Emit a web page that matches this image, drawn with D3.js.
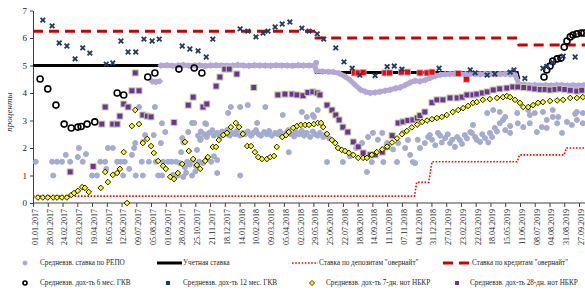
<!DOCTYPE html>
<html><head><meta charset="utf-8">
<script src="https://cdn.jsdelivr.net/npm/d3@7"></script>
<style>body{margin:0;background:#fff}svg{display:block}</style>
</head><body><svg id="c" width="585" height="297"></svg>
<script>
// all series: [days since 01.01.2017, value %]
const tickLabels = ["01.01.2017","28.01.2017","24.02.2017","23.03.2017","19.04.2017","16.05.2017","12.06.2017","09.07.2017","05.08.2017","01.09.2017","28.09.2017","25.10.2017","21.11.2017","18.12.2017","14.01.2018","10.02.2018","09.03.2018","05.04.2018","02.05.2018","29.05.2018","25.06.2018","22.07.2018","18.08.2018","14.09.2018","11.10.2018","07.11.2018","04.12.2018","31.12.2018","27.01.2019","23.02.2019","22.03.2019","18.04.2019","15.05.2019","11.06.2019","08.07.2019","04.08.2019","31.08.2019","27.09.2019"];
const yTicks = [0,1,2,3,4,5,6,7];

const policyRate = [[0,5],[515,5],[518,4.75],[886,4.75],[889,4.5]];
const overnightDeposit = [[0,0.25],[698,0.25],[702,0.75],[724,0.75],[730,1.5],[886,1.5],[890,1.75],[972,1.75],[976,2.0],[1015,2.0]];
const overnightCredit = [[0,6.25],[516,6.25],[518,6.0],[886,6.0],[889,5.75],[1015,5.75]];

const lavenderA = [[218,4.42],[225,4.40],[232,4.43]];
const lavenderB = [[234,5.0],[245,5.01],[255,4.99],[265,5.0],[275,5.02],[285,4.99],[295,5.0],[305,5.01],[315,4.98],[325,5.0],[335,5.01],[345,5.0],[355,4.99],[365,5.0],[375,5.02],[385,5.0],[395,4.99],[405,5.01],[415,5.0],[425,5.0],[435,4.99],[445,5.01],[455,5.0],[465,5.0],[475,4.99],[485,5.01],[495,5.0],[505,5.0],[515,5.0],
 [519,4.8],[530,4.78],[540,4.77],[550,4.76],[560,4.72],[571,4.6],[580,4.47],[589,4.3],[599,4.12],[608,4.05],[617,4.0],[626,4.02],[635,4.05],[644,4.08],[654,4.12],[663,4.17],[672,4.2],[681,4.28],[690,4.38],[699,4.45],[708,4.42],[718,4.47],[727,4.55],[736,4.62],[745,4.66],[754,4.68],[763,4.69],[772,4.7],[782,4.69],[791,4.68],[800,4.7],[809,4.69],[818,4.68],[827,4.7],[837,4.69],[846,4.68],[855,4.69],[864,4.7],[873,4.68],[882,4.67],
 [889,4.32],[898,4.3],[908,4.28],[918,4.29],[928,4.27],[938,4.28],[948,4.27],[958,4.29],[968,4.28],[978,4.27],[988,4.28],[998,4.27],[1008,4.28],[1015,4.28]];

const redSquares = [[588,4.73],[595,4.73],[604,4.75],[644,4.73],[652,4.73],[674,4.76],[685,4.76],[708,4.73],[721,4.73],[730,4.76],[778,4.71],[793,4.5]];

const repo = [[5,1.5],[35,1.5],[37,1.0],[44,1.5],[53,1.5],[60,1.75],[68,1.5],[82,1.67],[84,2.0],[91,1.5],[97,1.78],[108,1.0],[117,1.0],[123,1.5],[132,1.5],[134,1.24],[137,2.0],[146,2.0],[154,1.5],[161,1.5],[165,1.0],[168,1.5],[176,1.24],[181,1.75],[185,2.0],[187,2.18],[188,1.0],[194,3.49],[199,1.5],[201,1.0],[201,2.22],[205,2.47],[212,1.5],[221,2.47],[223,3.49],[225,1.5],[229,1.0],[234,2.18],[236,1.0],[236,2.9],[238,1.5],[242,2.58],[247,1.5],[254,1.5],[256,1.02],[262,1.5],[265,1.0],
 [269,1.45],[271,1.85],[273,2.36],[275,2.2],[275,0.95],[278,1.3],[280,1.1],[282,1.5],[284,2.58],[287,1.4],[291,1.0],[291,2.91],[293,1.55],[295,2.91],[297,1.15],[298,1.35],[300,1.93],[304,1.5],[306,2.29],[307,2.33],[311,1.45],[315,2.9],[317,2.87],[318,1.6],[326,1.5],[331,1.7],[337,1.56],[337,1.09],[357,3.27],[362,3.49],[379,3.49],[379,1.0],[393,3.56],[410,2.91],[425,3.49],[457,3.2],[468,1.85],[492,3.31],[501,3.13],[512,3.2],[514,3.13],[518,5.1],[521,3.38],[538,1.49],
 [302,2.45],[307,2.6],[313,2.5],[318,2.4],[322,2.55],[328,2.65],[331,2.45],[337,2.55],[342,2.4],[346,2.6],[351,2.5],[355,2.65],[360,2.45],[364,2.55],[370,2.5],[373,2.62],[379,2.45],[384,2.55],[388,2.5],[393,2.6],[399,2.45],[403,2.55],[408,2.65],[413,2.5],[417,2.45],[423,2.58],[428,2.5],[432,2.62],[437,2.45],[443,2.55],[448,2.5],[452,2.6],[457,2.45],[463,2.55],[467,2.65],[472,2.5],[478,2.42],[481,2.58],[487,2.5],[492,2.62],[496,2.45],[501,2.55],[507,2.4],[512,2.6],[516,2.5],[521,2.45],[525,2.55],[531,2.4],[536,2.5],[542,2.35],
 [567,1.49],[580,1.7],[591,2.0],[602,2.18],[611,1.13],[613,2.4],[620,1.49],[622,2.55],[631,2.3],[639,2.55],[641,1.49],[648,2.18],[659,1.95],[666,1.49],[668,2.18],[677,2.55],[681,2.0],[686,2.29],[690,1.75],[695,1.49],[699,1.45],[704,2.3],[708,2.0],[717,2.18],[723,2.4],[726,2.47],[730,2.3],[736,2.1],[741,2.55],[745,2.45],[748,2.2],[754,2.36],[759,2.5],[763,2.18],[767,2.3],[772,2.04],[776,2.4],[781,2.29],[785,2.15],[790,2.47],[794,2.35],[800,2.58],[803,2.55],[805,2.84],[809,2.4],[812,2.3],[818,2.22],[822,2.5],[827,2.36],[831,3.27],[833,2.2],[836,2.55],[840,2.4],[842,3.38],[845,2.73],[849,2.6],[854,2.9],[854,3.31],[860,3.02],[864,3.13],[864,2.65],[873,2.8],[873,2.55],[886,3.27],[887,2.9],[897,2.76],[906,3.38],[909,3.2],[909,2.9],[918,3.27],[922,2.58],[931,2.76],[933,3.31],[940,3.02],[940,2.73],[951,3.13],[951,3.38],[959,2.9],[961,3.13],[968,2.55],[977,2.95],[986,2.84],[992,3.24],[995,3.02],[995,3.31],[1006,3.27],[1006,2.9]];

const gkv6 = [[13,4.51],[27,4.15],[42,3.56],[57,2.87],[70,2.73],[82,2.76],[88,2.78],[99,2.87],[113,2.95],[154,4.0],[166,3.93],[210,4.58],[223,4.73],[267,4.87],[295,4.91],[309,4.73],[935,4.58],[940,4.84],[946,4.98],[951,5.16],[959,5.24],[966,5.27],[972,5.67],[977,5.89],[983,6.04],[988,6.11],[995,6.15],[1003,6.18],[1008,6.18]];

const gkv12 = [[18,6.65],[35,6.44],[48,5.82],[62,5.71],[77,5.24],[91,5.64],[104,5.45],[134,5.05],[146,5.09],[161,5.89],[174,5.49],[188,5.49],[203,5.96],[218,5.89],[231,5.96],[273,5.71],[287,5.6],[302,5.53],[317,5.31],[329,5.96],[379,6.33],[393,6.25],[408,6.04],[421,6.18],[430,6.25],[443,6.4],[456,6.51],[470,6.58],[492,6.36],[505,6.25],[520,6.15],[532,5.96],[554,5.64],[569,5.13],[584,4.9],[598,4.65],[626,4.63],[648,4.96],[661,4.98],[675,4.87],[743,4.9],[800,4.84],[809,4.73],[831,4.65],[845,4.69],[873,4.76],[880,4.84],[900,4.53],[933,4.9],[940,4.97],[951,5.11],[970,5.34],[992,5.31]];

const notes7 = [[9,0.2],[18,0.2],[27,0.2],[37,0.2],[44,0.2],[53,0.2],[62,0.2],[70,0.29],[75,0.36],[82,0.44],[90,0.58],[95,0.55],[102,0.4],[124,0.55],[132,1.13],[137,0.76],[146,1.02],[154,1.09],[159,1.24],[166,1.85],[172,0.0],[181,2.8],[187,3.38],[194,2.87],[201,2.18],[209,2.33],[216,2.07],[221,1.82],[229,1.53],[238,1.35],[243,1.24],[251,0.95],[258,0.87],[265,1.09],[273,1.42],[278,2.22],[285,1.89],[293,1.6],[300,1.38],[306,1.24],[315,1.53],[320,1.67],[329,2.04],[335,2.04],[340,2.29],[348,2.47],[355,2.55],[362,2.76],[371,2.91],[377,2.76],[384,2.51],[392,2.07],[399,2.07],[406,1.85],[412,1.67],[419,1.6],[428,1.6],[434,1.67],[441,1.71],[446,2.04],[456,2.4],[463,2.47],[468,2.58],[476,2.73],[483,2.8],[490,2.84],[498,2.84],[505,2.84],[514,2.87],[521,2.91],[527,2.91],[531,2.76],[538,2.51],[547,2.29],[553,2.18],[558,2.0],[565,1.93],[571,1.89],[578,1.82],[586,1.75],[595,1.64],[604,1.64],[611,1.64],[620,1.75],[629,1.85],[639,1.95],[648,2.05],[657,2.2],[666,2.35],[675,2.5],[684,2.62],[693,2.75],[703,2.85],[712,2.95],[721,3.0],[730,3.05],[739,3.09],[748,3.13],[757,3.2],[768,3.31],[778,3.38],[787,3.45],[796,3.53],[805,3.64],[812,3.67],[823,3.75],[836,3.78],[849,3.82],[860,3.85],[867,3.89],[873,3.85],[882,3.75],[891,3.64],[897,3.49],[906,3.49],[915,3.56],[924,3.64],[933,3.67],[946,3.71],[959,3.73],[970,3.75],[983,3.82],[995,3.82],[1006,3.85]];

const notes28 = [[68,1.13],[110,1.33],[126,2.87],[132,3.49],[146,2.87],[154,2.87],[159,3.16],[166,3.6],[174,3.49],[181,4.08],[187,4.73],[194,4.08],[201,3.2],[209,3.16],[216,3.13],[258,2.93],[284,3.56],[293,3.85],[311,3.49],[318,3.6],[335,4.25],[342,4.58],[351,4.87],[359,4.87],[373,4.69],[404,4.2],[448,3.93],[461,3.96],[474,3.96],[483,3.93],[494,3.9],[503,4.02],[512,4.04],[520,4.0],[525,3.93],[538,3.56],[547,3.38],[554,3.2],[560,3.02],[567,2.76],[576,2.58],[586,2.22],[595,2.04],[604,1.82],[617,1.75],[626,1.75],[639,1.85],[648,2.04],[657,2.45],[668,2.91],[677,2.95],[686,3.0],[695,3.02],[703,3.09],[708,3.18],[717,3.31],[730,3.65],[739,3.75],[750,3.75],[763,3.82],[776,3.82],[785,3.85],[794,3.93],[805,3.93],[812,3.96],[822,4.0],[831,4.04],[842,4.11],[854,4.15],[867,4.18],[878,4.22],[887,4.22],[898,4.2],[909,4.18],[918,4.15],[928,4.13],[937,4.13],[946,4.11],[955,4.13],[964,4.15],[973,4.13],[983,4.1],[995,4.07],[1004,4.1]];

const legendNames = ["Средневзв. ставка по РЕПО","Учетная ставка","Ставка по депозитам \"овернайт\"","Ставка по кредитам \"овернайт\"","Средневзв. дох-ть 6 мес. ГКВ","Средневзв. дох-ть 12 мес. ГКВ","Средневзв. дох-ть 7-дн. нот НБКР","Средневзв. дох-ть 28-дн. нот НБКР"];

// ---------- drawing ----------
const svg = d3.select('#c');
const BASE = Date.UTC(2017,0,1);
const toDate = d => new Date(BASE + d*864e5);
const parseLbl = s => { const [dd,mm,yy] = s.split('.').map(Number); return new Date(Date.UTC(yy,mm-1,dd)); };
const x = d3.scaleUtc().domain([toDate(0), parseLbl("27.09.2019")]).range([33,579]);
const y = d3.scaleLinear().domain([0,7]).range([203,10.5]);
const X = d => x(toDate(d[0])), Y = d => y(d[1]);
const line = d3.line().x(X).y(Y);
const FONT = "'Liberation Serif','Times New Roman',serif";

// axes
const xAxis = svg.append('g').attr('transform','translate(0,203)')
  .call(d3.axisBottom(x).tickValues(tickLabels.map(parseLbl)).tickFormat((d,i)=>tickLabels[i]).tickSize(4).tickSizeOuter(0));
xAxis.select('.domain').remove();
xAxis.append('line').attr('x1',33).attr('x2',585).attr('stroke','#404040');
xAxis.selectAll('.tick line').attr('stroke','#404040');
xAxis.selectAll('text').attr('transform','rotate(-90)').attr('text-anchor','end')
  .attr('x',-6).attr('y',0).attr('dy','0.55em')
  .style('font-family',FONT).style('font-size','8px').attr('fill','#262626');

const yAxis = svg.append('g').attr('transform','translate(33,0)')
  .call(d3.axisLeft(y).tickValues(yTicks).tickFormat(d3.format('d')).tickSize(3).tickSizeOuter(0));
yAxis.select('.domain').attr('stroke','#404040');
yAxis.selectAll('.tick line').attr('stroke','#404040');
yAxis.selectAll('text').style('font-family',FONT).style('font-size','9px').attr('fill','#262626').attr('x',-6);

svg.append('text').attr('transform','translate(12,112) rotate(-90)').attr('text-anchor','middle')
  .style('font-family',FONT).style('font-size','9px').style('font-style','italic').attr('fill','#262626').text('проценты');

const plot = svg.append('g');

// repo circles
plot.append('g').selectAll('circle').data(repo).join('circle')
  .attr('cx',X).attr('cy',Y).attr('r',2.5).attr('fill','#95b3d7').attr('stroke','#b3a2c7').attr('stroke-width',1);

// policy rate
plot.append('path').datum(policyRate).attr('d',line).attr('fill','none').attr('stroke','#000').attr('stroke-width',3);

// lavender band
[lavenderA, lavenderB].forEach(seg => {
  plot.append('path').datum(seg).attr('d',line).attr('fill','none').attr('stroke','#b4a7d6').attr('stroke-width',5).attr('stroke-linejoin','round');
  plot.append('g').selectAll('path').data(seg).join('path')
    .attr('transform',d=>`translate(${X(d)},${Y(d)})`).attr('d','M0,-3.5L3.5,0L0,3.5L-3.5,0Z').attr('fill','#b4a7d6');
});

// overnight lines
plot.append('path').datum(overnightDeposit).attr('d',line).attr('fill','none').attr('stroke','#ff0000').attr('stroke-width',1.6).attr('stroke-dasharray','1.6,1.6');
plot.append('path').datum(overnightCredit).attr('d',line).attr('fill','none').attr('stroke','#d00000').attr('stroke-width',3).attr('stroke-dasharray','10,6');

// red squares
plot.append('g').selectAll('rect').data(redSquares).join('rect')
  .attr('x',d=>X(d)-3).attr('y',d=>Y(d)-3).attr('width',6).attr('height',6).attr('fill','#ff0000').attr('stroke','#9dc3e6').attr('stroke-width',0.8);

// 28-day notes
plot.append('g').selectAll('rect').data(notes28).join('rect')
  .attr('x',d=>X(d)-3).attr('y',d=>Y(d)-3).attr('width',6).attr('height',6).attr('fill','#7030a0').attr('stroke','#c4d79b').attr('stroke-width',1);

// 7-day notes
plot.append('g').selectAll('path').data(notes7).join('path')
  .attr('transform',d=>`translate(${X(d)},${Y(d)})`).attr('d','M0,-2.8L2.8,0L0,2.8L-2.8,0Z')
  .attr('fill','#ffff00').attr('stroke','#000').attr('stroke-width',0.9);

// 6m GKV
plot.append('g').selectAll('circle').data(gkv6).join('circle')
  .attr('cx',X).attr('cy',Y).attr('r',3).attr('fill','none').attr('stroke','#000').attr('stroke-width',1.6);

// 12m GKV
plot.append('g').selectAll('path').data(gkv12).join('path')
  .attr('transform',d=>`translate(${X(d)},${Y(d)})`).attr('d','M-2.3,-2.3L2.3,2.3M-2.3,2.3L2.3,-2.3')
  .attr('stroke','#1f3864').attr('stroke-width',1.8).attr('fill','none');

// legend
const lg = svg.append('g').style('font-family',FONT).style('font-size','7.2px').attr('fill','#262626');
legendNames.forEach((name,i)=>{
  const row = Math.floor(i/4), yy = row ? 283 : 263;
  const [mx, tx] = [[25,40],[157,183],[292,319],[443,472],[25,40],[168,183],[312,326],[457,470]][i];
  const g = lg.append('g');
  if (i===0) g.append('circle').attr('cx',mx).attr('cy',yy).attr('r',2).attr('fill','#95b3d7').attr('stroke','#b3a2c7');
  if (i===1) g.append('line').attr('x1',mx).attr('x2',182).attr('y1',yy).attr('y2',yy).attr('stroke','#000').attr('stroke-width',3);
  if (i===2) g.append('line').attr('x1',mx).attr('x2',318).attr('y1',yy).attr('y2',yy).attr('stroke','#ff0000').attr('stroke-width',1.6).attr('stroke-dasharray','1.6,1.6');
  if (i===3) g.append('line').attr('x1',mx).attr('x2',471).attr('y1',yy).attr('y2',yy).attr('stroke','#d00000').attr('stroke-width',3).attr('stroke-dasharray','10,6');
  if (i===4) g.append('circle').attr('cx',mx).attr('cy',yy).attr('r',2).attr('fill','none').attr('stroke','#000').attr('stroke-width',1.6);
  if (i===5) g.append('rect').attr('x',mx-2).attr('y',yy-2).attr('width',4).attr('height',4).attr('fill','#1f3864');
  if (i===6) g.append('path').attr('transform',`translate(${mx},${yy})`).attr('d','M0,-2.5L2.5,0L0,2.5L-2.5,0Z').attr('fill','#ffff00').attr('stroke','#000').attr('stroke-width',0.8);
  if (i===7) g.append('rect').attr('x',mx-2).attr('y',yy-2).attr('width',4).attr('height',4).attr('fill','#7030a0');
  g.append('text').attr('x',tx).attr('y',yy).attr('dy','0.33em').text(name);
});
</script></body></html>
